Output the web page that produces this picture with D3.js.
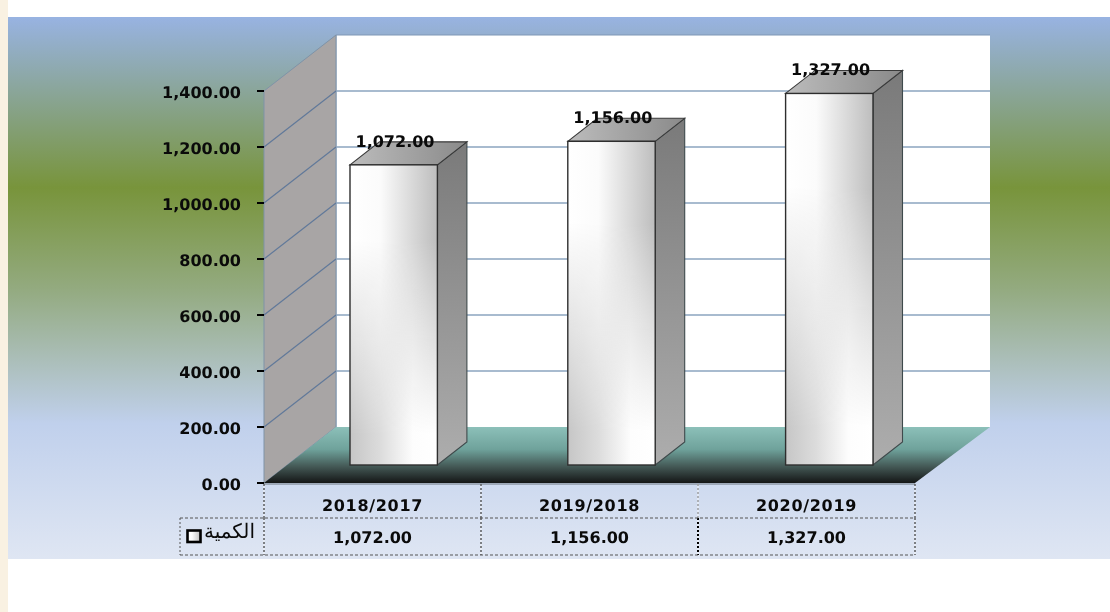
<!DOCTYPE html>
<html><head><meta charset="utf-8">
<script src="https://cdn.jsdelivr.net/npm/d3@7"></script>
<style>html,body{margin:0;padding:0;background:#fff}svg{display:block}
text{font-family:"DejaVu Sans",sans-serif;font-weight:bold;fill:#0a0a0a;font-size:16px;letter-spacing:0;text-rendering:geometricPrecision}
#root{filter:blur(.35px)}
</style></head><body><svg id="c" width="1110" height="612"><g id="root"></g></svg>
<script>
const categories=["2018/2017","2019/2018","2020/2019"];
const values=[1072,1156,1327];
const yTicks=[0,200,400,600,800,1000,1200,1400];
const seriesName="الكمية";
const fmt=d3.format(",.2f");
const root=d3.select("#c");
const defs=root.append("defs");
const svg=d3.select("#root");
function grad(id,stops,x2=0,y2=1){const g=defs.append("linearGradient").attr("id",id).attr("x1",0).attr("y1",0).attr("x2",x2).attr("y2",y2);
 stops.forEach(([o,c])=>g.append("stop").attr("offset",o).attr("stop-color",c));}
grad("bg",[[0,"#98b3e2"],[.315,"#78943b"],[.5,"#93aa7f"],[.75,"#c0d0ec"],[1,"#dfe6f3"]]);
grad("floor",[[0,"#8cc0b9"],[.4,"#6fa29b"],[.7,"#455a57"],[1,"#141616"]]);
grad("front",[[0,"#ffffff"],[.35,"#fbfbfb"],[1,"#bdbdbd"]],1,0);
grad("front2",[[0,"#c6c6c6"],[.35,"#dcdcdc"],[.72,"#fdfdfd"],[1,"#ffffff"]],1,0);
grad("fade",[[0,"#000"],[.25,"#000"],[.9,"#fff"],[1,"#fff"]]);
grad("side",[[0,"#7a7a7a"],[1,"#adadad"]]);
grad("topf",[[0,"#bcbcbc"],[1,"#8a8a8a"]],1,0);
defs.append("mask").attr("id","m").attr("maskContentUnits","objectBoundingBox")
 .append("rect").attr("width",1).attr("height",1).attr("fill","url(#fade)");

const W=1110;
svg.append("rect").attr("x",0).attr("y",0).attr("width",8).attr("height",612).attr("fill","#f9f1e2");
svg.append("rect").attr("x",8).attr("y",17).attr("width",W-8).attr("height",542).attr("fill","url(#bg)");

// scales
const y=d3.scaleLinear().domain([0,1400]).range([483,91]);
const x=d3.scaleBand().domain(categories).range([264,915]);
const xBar=d3.scaleBand().domain(categories).range([350,350+3*217.8]);
const wallDx=72,wallDy=-56;
const barDx=29.5,barDy=-23,barW=87.4,baseLift=18;
const topV=1400;

const bx0=x.range()[0]+wallDx,bx1=x.range()[1]+wallDx+3;
svg.append("rect").attr("x",bx0).attr("y",y(topV)+wallDy).attr("width",bx1-bx0).attr("height",y(0)-y(topV)).attr("fill","#fff");
svg.append("path").attr("d",d3.line()([[bx0,y(0)+wallDy],[bx0,y(topV)+wallDy],[bx1,y(topV)+wallDy]])).attr("fill","none").attr("stroke","#7f97b5").attr("stroke-width",1);
svg.append("path").attr("d",d3.line()([[264,y(topV)],[bx0,y(topV)+wallDy],[bx0,y(0)+wallDy],[264,y(0)]])+"Z")
 .attr("fill","#a8a5a5").attr("stroke","#7f93a8").attr("stroke-width",1);
const gridVals=yTicks.slice(1);
svg.append("g").selectAll("line").data(gridVals.slice(0,-1)).join("line")
 .attr("x1",264).attr("y1",d=>y(d)).attr("x2",bx0).attr("y2",d=>y(d)+wallDy).attr("stroke","#61799a").attr("stroke-width",1.2);
svg.append("g").selectAll("line").data(gridVals.slice(0,-1)).join("line")
 .attr("x1",bx0).attr("y1",d=>y(d)+wallDy).attr("x2",bx1).attr("y2",d=>y(d)+wallDy).attr("stroke","#8ba4bf").attr("stroke-width",1.5);
svg.append("path").attr("d",d3.line()([[264,y(0)],[915,y(0)],[bx1,y(0)+wallDy],[bx0,y(0)+wallDy]])+"Z").attr("fill","url(#floor)");
svg.append("line").attr("x1",264).attr("x2",915).attr("y1",y(0)+1).attr("y2",y(0)+1).attr("stroke","#6d7680").attr("stroke-width",1.2);

const ticks=svg.append("g");
ticks.selectAll("line").data(yTicks).join("line").attr("x1",257).attr("x2",264).attr("y1",d=>y(d)).attr("y2",d=>y(d)).attr("stroke","#000").attr("stroke-width",2);
ticks.selectAll("text").data(yTicks).join("text").attr("x",241).attr("y",d=>y(d)+7).attr("text-anchor","end").text(fmt);

const bars=svg.append("g").selectAll("g").data(categories.map((c,i)=>({c,v:values[i]}))).join("g");
const sx=d=>xBar(d.c);
const ty=d=>y(d.v)-baseLift, by=y(0)-baseLift;
const ln=d3.line();
bars.append("path").attr("d",d=>ln([[sx(d)+barW,ty(d)],[sx(d)+barW+barDx,ty(d)+barDy],[sx(d)+barW+barDx,by+barDy],[sx(d)+barW,by]])+"Z")
 .attr("fill","url(#side)").attr("stroke","#3f4a4c").attr("stroke-width",1.1);
bars.append("path").attr("d",d=>ln([[sx(d),ty(d)],[sx(d)+barDx,ty(d)+barDy],[sx(d)+barW+barDx,ty(d)+barDy],[sx(d)+barW,ty(d)]])+"Z")
 .attr("fill","url(#topf)").attr("stroke","#3a3a3a").attr("stroke-width",1.1);
bars.append("rect").attr("x",sx).attr("y",ty).attr("width",barW).attr("height",d=>by-ty(d)).attr("fill","url(#front)");
bars.append("rect").attr("x",sx).attr("y",ty).attr("width",barW).attr("height",d=>by-ty(d)).attr("fill","url(#front2)").attr("mask","url(#m)");
bars.append("rect").attr("x",sx).attr("y",ty).attr("width",barW).attr("height",d=>by-ty(d)).attr("fill","none").attr("stroke","#2e2e2e").attr("stroke-width",1.4);
bars.append("text").attr("x",d=>sx(d)+45).attr("y",d=>ty(d)-18).attr("text-anchor","middle").text(d=>fmt(d.v));

const rowY=[483,518,555],legX=180;
const colX=[264,...categories.map(c=>x(c)+x.bandwidth())];
const under=svg.append("g").attr("stroke","#f4f7fc").attr("stroke-width",1);
colX.forEach((cx,i)=>under.append("line").attr("x1",cx).attr("x2",cx).attr("y1",484).attr("y2",555));
const dots=svg.append("g").attr("fill","none").attr("stroke","#111").attr("stroke-width",1).attr("stroke-dasharray","2 2");
colX.forEach((cx,i)=>{
 dots.append("line").attr("x1",cx).attr("x2",cx).attr("y1",484).attr("y2",518).attr("stroke",i==2?"#777":"#111");
 dots.append("line").attr("x1",cx).attr("x2",cx).attr("y1",518).attr("y2",555).attr("stroke-width",i==2?2:1).attr("stroke",i==2?"#000":"#111");
});
[rowY[1],rowY[2]].forEach(r=>dots.append("line").attr("x1",legX).attr("x2",915).attr("y1",r).attr("y2",r).attr("stroke","#555").attr("stroke-dasharray","3 2"));
dots.append("line").attr("x1",legX).attr("x2",legX).attr("y1",rowY[1]).attr("y2",rowY[2]).attr("stroke","#555");
const table=svg.append("g");
table.selectAll(".cat").data(categories).join("text").attr("class","cat").attr("x",c=>x(c)+x.bandwidth()/2).attr("y",511).attr("text-anchor","middle").style("letter-spacing",".7px").text(c=>c);
table.selectAll(".val").data(values).join("text").attr("class","val").attr("x",(v,i)=>x(categories[i])+x.bandwidth()/2).attr("y",543).attr("text-anchor","middle").text(fmt);
table.append("rect").attr("x",187.5).attr("y",530.5).attr("width",13).attr("height",11.5).attr("fill","url(#front)").attr("stroke","#000").attr("stroke-width",2.6);
table.append("text").attr("x",255).attr("y",538).attr("text-anchor","end").style("font-weight","normal").style("font-size","20px").text(seriesName);
</script></body></html>
